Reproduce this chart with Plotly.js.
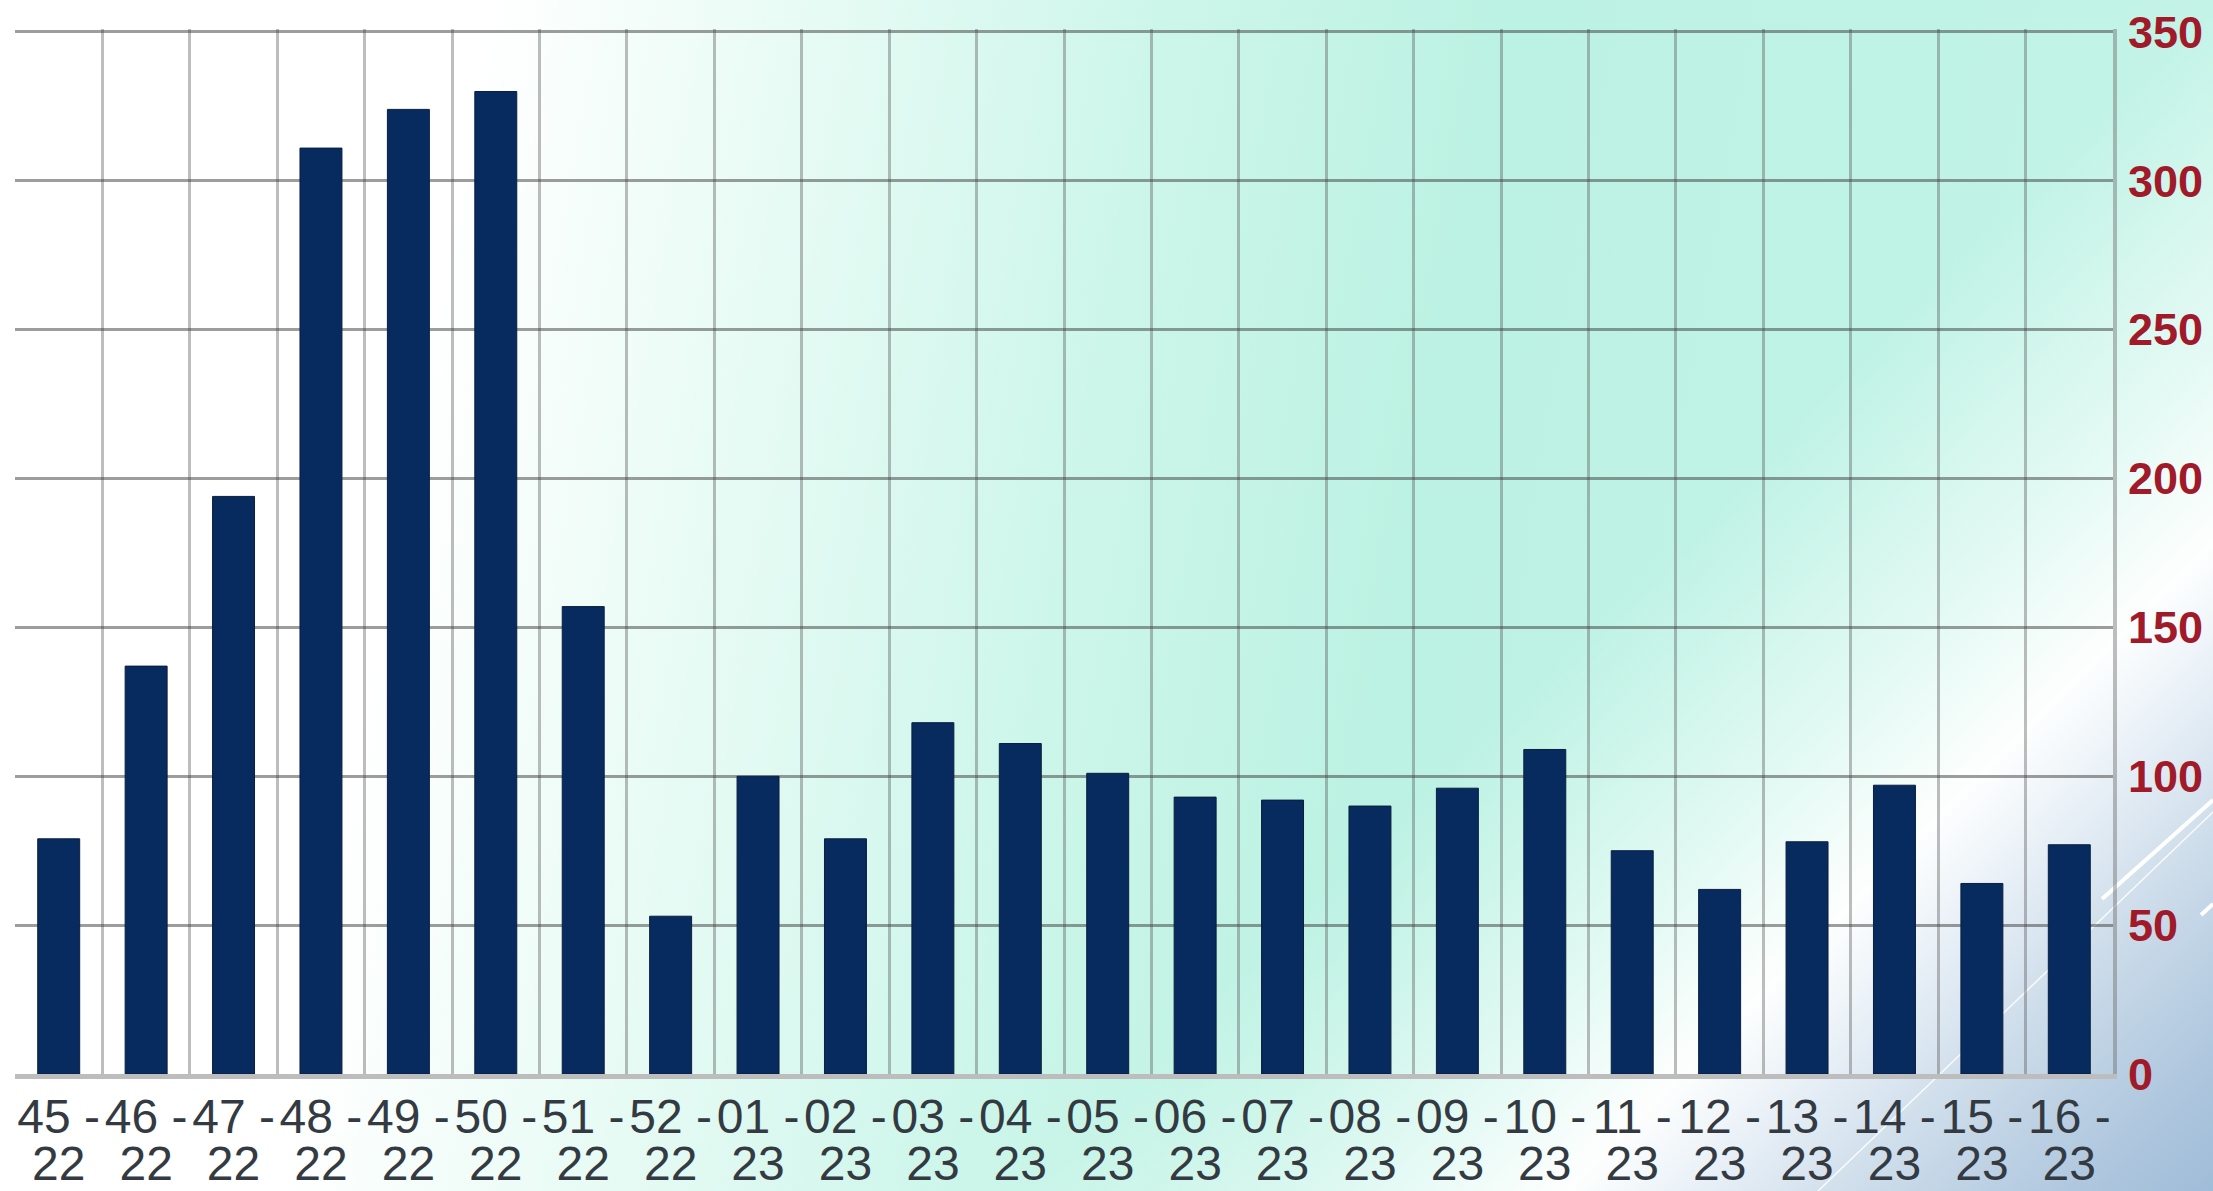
<!DOCTYPE html>
<html>
<head>
<meta charset="utf-8">
<script src="https://cdn.plot.ly/plotly-3.0.1.min.js"></script>
<style>
  html, body { margin: 0; padding: 0; width: 2213px; height: 1191px; overflow: hidden; }
  #stage {
    position: relative; width: 2213px; height: 1191px;
    background:
      linear-gradient(135deg, rgba(255,255,255,0) 0%, rgba(255,255,255,0) 65%, rgba(255,255,255,0.55) 75%, rgba(255,255,255,0.97) 81%, #e4edf5 85.5%, #cbdbe9 90%, #b3cae0 95%, #9fbcd8 100%),
      linear-gradient(100deg, #ffffff 0%, #ffffff 20%, #e8fbf5 33%, #cdf6ea 48%, #bcf2e3 62%, #bff3e5 80%, #c6f4e8 100%);
  }
  #deco { position: absolute; left: 0; top: 0; }
  #chart { position: absolute; left: 0; top: 0; width: 2213px; height: 1191px; }
</style>
</head>
<body>
<div id="stage">
  <svg id="deco" width="2213" height="1191">
    <line x1="1818" y1="1191" x2="2213" y2="812" stroke="rgba(255,255,255,0.85)" stroke-width="1.5"/>
    <line x1="2102" y1="899" x2="2213" y2="800" stroke="#ffffff" stroke-width="4"/>
    <line x1="2201" y1="915" x2="2213" y2="904" stroke="#ffffff" stroke-width="4"/>
  </svg>
  <div id="chart"></div>
</div>
<script>
// Weekly counts, week 45 of 2022 through week 16 of 2023
const weeks = ['45', '46', '47', '48', '49', '50', '51', '52',
               '01', '02', '03', '04', '05', '06', '07', '08',
               '09', '10', '11', '12', '13', '14', '15', '16'];
const years = ['22', '22', '22', '22', '22', '22', '22', '22',
               '23', '23', '23', '23', '23', '23', '23', '23',
               '23', '23', '23', '23', '23', '23', '23', '23'];
const cases = [79, 137, 194, 311, 324, 330, 157, 53,
               100, 79, 118, 111, 101, 93, 92, 90,
               96, 109, 75, 62, 78, 97, 64, 77];
const yTicks = [0, 50, 100, 150, 200, 250, 300, 350];

// first label line "45 -" on the category axis, second line "22" on an overlaid axis
const weekLabels = weeks.map(w => w + ' -');
const slots = weeks.map((w, i) => i);

const FONT = 'Liberation Sans, Arial, Helvetica, sans-serif';
const XFONT = { family: FONT, size: 48, color: '#343a42' };

const bars = {
  type: 'bar',
  x: weekLabels,
  y: cases,
  marker: { color: '#072b5e', line: { color: '#0b1e3e', width: 1 } },
  hoverinfo: 'skip'
};

// carries the year axis so that it gets drawn; has no visible marks
const yearCarrier = {
  type: 'scatter',
  mode: 'none',
  x: slots,
  y: cases,
  xaxis: 'x2',
  yaxis: 'y',
  hoverinfo: 'skip',
  showlegend: false
};

const layout = {
  width: 2213,
  height: 1191,
  margin: { l: 15, r: 100, t: 29, b: 117, pad: 0 },
  paper_bgcolor: 'rgba(0,0,0,0)',
  plot_bgcolor: 'rgba(0,0,0,0)',
  showlegend: false,
  bargap: 0.52,
  xaxis: {
    type: 'category',
    tickson: 'boundaries',
    showgrid: true,
    gridcolor: 'rgba(90,90,90,0.4)',
    gridwidth: 3,
    ticks: '',
    tickangle: 0,
    ticklabelstandoff: -4,
    showline: true,
    linecolor: '#bdbdbd',
    linewidth: 5,
    automargin: false,
    tickfont: XFONT
  },
  xaxis2: {
    type: 'linear',
    overlaying: 'x',
    anchor: 'y',
    side: 'bottom',
    range: [-0.5, weeks.length - 0.5],
    autorange: false,
    tickmode: 'array',
    tickvals: slots,
    ticktext: years,
    showgrid: false,
    zeroline: false,
    showline: false,
    ticks: '',
    tickangle: 0,
    ticklabelstandoff: 57,
    automargin: false,
    tickfont: XFONT
  },
  yaxis: {
    side: 'right',
    range: [0, 351],
    tickmode: 'array',
    tickvals: yTicks,
    showgrid: true,
    gridcolor: 'rgba(60,60,60,0.5)',
    gridwidth: 3,
    zeroline: false,
    showline: true,
    linecolor: 'rgba(110,110,110,0.45)',
    linewidth: 4,
    ticks: '',
    ticklabelstandoff: 2,
    automargin: false,
    tickfont: { family: FONT, size: 45, color: '#a01a2a', weight: 'bold' }
  }
};

Plotly.newPlot('chart', [bars, yearCarrier], layout, { displayModeBar: false, staticPlot: true });
</script>
</body>
</html>
